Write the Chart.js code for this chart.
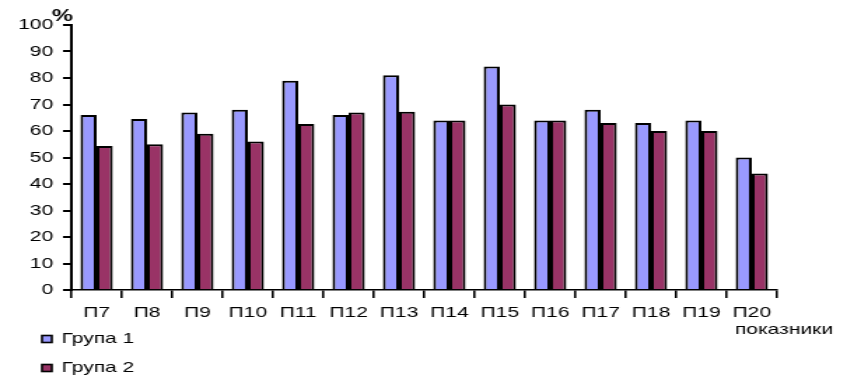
<!DOCTYPE html>
<html>
<head>
<meta charset="utf-8">
<script src="https://cdn.jsdelivr.net/npm/chart.js@4.4.0/dist/chart.umd.min.js"></script>
<style>
  body { margin: 0; background: #fff; overflow: hidden; }
  /* chart is drawn narrow and stretched sideways */
  #wrap { position: relative; width: 613px; height: 375px; transform: scaleX(1.4); transform-origin: 0 0; }
</style>
</head>
<body>
<div id="wrap"><canvas id="bars" width="613" height="375"></canvas></div>
<script>
var categories = ["П7", "П8", "П9", "П10", "П11", "П12", "П13", "П14", "П15", "П16", "П17", "П18", "П19", "П20"];
var group1 = [66, 64.5, 67, 68, 79, 66, 81, 64, 84.3, 64, 68, 63, 64, 50];
var group2 = [54.3, 55, 59, 56, 62.6, 67, 67.3, 64, 70, 64, 63, 60, 60, 44];
var seriesNames = ["Група 1", "Група 2"];
var seriesColors = ["#9999ff", "#993366"];

var FONT = "'Liberation Sans', Arial, sans-serif";

// axis captions and the vertical legend under the plot
var extras = {
    id: 'extras',
    afterDraw: function (chart) {
        var c = chart.ctx;
        c.save();
        c.fillStyle = '#000';
        c.textBaseline = 'alphabetic';
        c.textAlign = 'left';
        c.font = 'bold 17px ' + FONT;
        c.fillText('%', 37, 21);
        c.font = '15px ' + FONT;
        c.fillText('показники', 525, 334);

        chart.data.datasets.forEach(function (ds, i) {
            var y = 339 + i * 29;
            c.fillStyle = ds.backgroundColor;
            c.fillRect(30, y - 3.5, 7, 7);
            c.lineWidth = 1.6;
            c.strokeStyle = '#000';
            c.strokeRect(30, y - 3.5, 7, 7);
            c.fillStyle = '#000';
            c.textBaseline = 'middle';
            c.fillText(ds.label, 44, y);
        });
        c.restore();
    }
};

var ctx = document.getElementById("bars").getContext("2d");
var chart = new Chart(ctx, {
    type: 'bar',
    data: {
        labels: categories,
        datasets: [
            { label: seriesNames[0], data: group1, backgroundColor: seriesColors[0] },
            { label: seriesNames[1], data: group2, backgroundColor: seriesColors[1] }
        ]
    },
    options: {
        responsive: false,
        animation: false,
        events: [],
        layout: { padding: { left: 0, top: 25, right: 58, bottom: 0 } },
        datasets: {
            bar: {
                borderColor: '#000',
                borderWidth: 2,
                borderSkipped: 'bottom',
                categoryPercentage: 0.64,
                barPercentage: 1
            }
        },
        plugins: {
            legend: { display: false },
            tooltip: { enabled: false }
        },
        scales: {
            x: {
                afterFit: function (s) { s.height = 85; },
                border: { color: '#000', width: 1.6 },
                grid: { display: true, drawOnChartArea: false, color: '#000', tickLength: 8, lineWidth: 1.6 },
                ticks: { color: '#000', font: { family: FONT, size: 15 }, padding: 6, maxRotation: 0, autoSkip: false }
            },
            y: {
                min: 0,
                max: 100,
                afterFit: function (s) { s.width = 51; },
                border: { color: '#000', width: 2 },
                grid: { display: true, drawOnChartArea: false, color: '#000', tickLength: 6, lineWidth: 2 },
                ticks: { stepSize: 10, color: '#000', font: { family: FONT, size: 15 }, padding: 7 }
            }
        }
    },
    plugins: [extras]
});
</script>
</body>
</html>
